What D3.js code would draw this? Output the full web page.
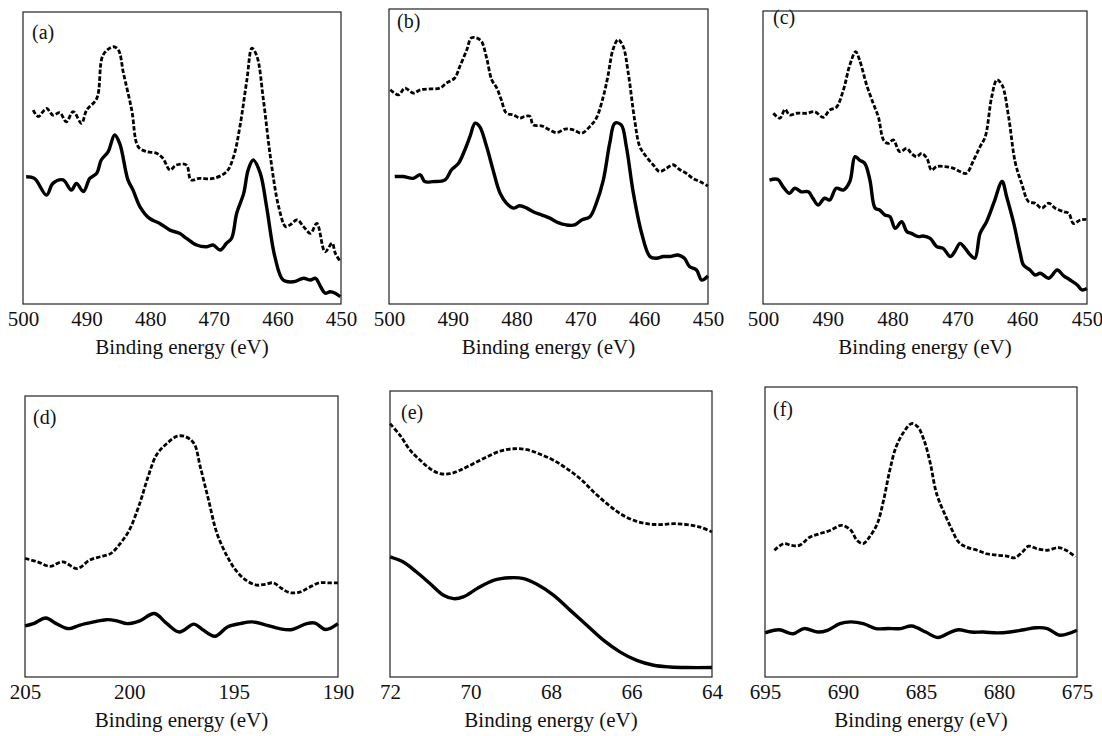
<!DOCTYPE html>
<html>
<head>
<meta charset="utf-8">
<script src="https://cdn.jsdelivr.net/npm/d3@7"></script>
<style>
  body { margin: 0; background: #fff; }
  svg text { font-family: "Liberation Serif", "DejaVu Serif", "Times New Roman", Times, serif; fill: #111; }
</style>
</head>
<body>
<svg id="chart" width="1102" height="736"></svg>
<script>
// tick labels per panel
var ticksA = [500, 490, 480, 470, 460, 450];
var ticksD = [205, 200, 195, 190];
var ticksE = [72, 70, 68, 66, 64];
var ticksF = [695, 690, 685, 680, 675];

// (a) [binding energy, intensity]
var aDashed = [[498.4,66.4],[497.6,64.2],[496.3,67.0],[495.3,64.7],[494.2,65.5],[493.2,62.4],[492.1,65.9],[490.8,61.9],[490.0,66.4],[488.4,70.4],[487.4,85.3],[485.8,88.1],[485.0,87.0],[484.2,79.0],[482.9,66.4],[481.9,53.9],[480.6,52.2],[479.0,51.6],[478.0,49.9],[476.9,45.9],[475.9,47.6],[474.3,47.6],[473.6,42.5],[472.3,43.0],[470.1,43.0],[468.0,45.3],[466.9,50.4],[465.9,60.7],[464.8,76.7],[464.0,87.6],[463.2,84.7],[462.2,69.9],[461.1,50.4],[459.8,33.3],[458.7,26.5],[458.0,27.1],[456.9,28.8],[455.9,26.5],[454.8,24.2],[453.8,27.6],[452.5,17.9],[451.4,20.8],[450.9,17.4],[450.1,14.5]];
var aSolid = [[499.5,43.6],[498.2,43.0],[496.3,37.3],[495.3,41.3],[493.7,42.5],[492.4,39.0],[491.6,41.3],[490.5,38.5],[489.5,43.0],[488.4,44.8],[487.7,49.3],[486.6,52.2],[485.6,57.9],[484.8,55.0],[483.5,42.5],[482.7,39.0],[481.6,33.3],[480.1,29.3],[478.5,27.6],[476.9,25.3],[475.4,24.2],[474.3,22.5],[472.7,20.2],[471.1,19.6],[470.1,20.2],[469.0,18.5],[468.0,20.8],[467.2,22.5],[466.4,31.1],[465.3,37.9],[464.6,45.9],[463.8,49.3],[462.7,44.8],[461.7,33.3],[460.4,16.2],[459.1,8.2],[457.5,7.6],[455.9,8.8],[454.8,8.2],[454.0,8.8],[453.2,5.9],[452.5,3.7],[451.7,4.2],[450.9,3.7],[450.1,2.5]];

// (b)
var bDashed = [[499.8,72.6],[498.5,70.9],[497.5,73.2],[496.2,71.5],[495.1,72.6],[493.6,72.9],[492.0,73.2],[491.0,74.9],[489.7,76.6],[488.9,80.5],[487.8,86.2],[487.1,90.2],[486.3,90.2],[485.5,89.0],[484.7,83.4],[483.9,76.0],[483.1,73.2],[482.4,69.2],[481.6,64.7],[480.5,64.1],[479.5,63.0],[478.7,63.6],[477.9,63.6],[477.4,60.7],[476.1,60.4],[474.8,59.0],[473.7,58.1],[472.4,59.3],[471.1,59.0],[469.8,57.9],[468.5,60.2],[467.5,63.0],[466.4,70.4],[465.7,77.1],[464.9,86.2],[464.1,89.6],[463.3,87.3],[462.5,78.3],[461.5,62.4],[460.7,53.4],[459.7,50.0],[458.6,47.2],[457.6,44.9],[456.5,46.0],[455.5,47.2],[454.4,45.5],[453.4,44.3],[452.4,42.6],[451.3,41.5],[450.0,40.0]];
var bSolid = [[499.1,43.2],[497.8,43.2],[496.2,42.6],[495.1,43.8],[494.4,41.5],[493.1,41.5],[491.2,42.1],[490.2,45.5],[489.1,47.7],[488.1,52.3],[487.3,56.8],[486.5,61.3],[485.8,60.2],[484.7,53.4],[483.7,45.5],[482.6,37.6],[481.6,34.2],[480.5,32.5],[479.5,33.3],[478.4,32.5],[477.4,31.3],[476.1,30.2],[474.8,29.1],[473.5,27.6],[472.2,26.8],[470.9,26.8],[469.8,28.5],[468.5,29.6],[467.5,34.2],[466.4,42.1],[465.4,54.5],[464.6,61.3],[463.6,60.7],[462.8,53.4],[461.7,37.6],[460.4,24.0],[459.1,16.1],[458.1,15.5],[457.0,16.1],[456.0,16.1],[454.7,16.6],[453.7,15.5],[452.9,12.7],[451.8,11.5],[451.0,8.1],[450.0,9.5]];

// (c)
var cDashed = [[498.4,65.1],[497.4,63.4],[496.6,66.4],[495.9,64.5],[494.8,65.1],[493.3,65.1],[492.0,65.6],[490.7,63.7],[489.7,66.2],[488.7,67.1],[487.6,73.0],[486.6,81.6],[485.7,86.1],[485.1,83.3],[484.0,74.7],[483.0,68.5],[482.2,63.9],[481.4,56.0],[480.7,54.8],[479.9,56.0],[478.9,52.0],[477.8,53.1],[477.1,51.4],[476.3,50.3],[475.5,51.4],[474.7,49.7],[474.0,45.7],[473.2,46.9],[471.9,46.9],[470.6,46.3],[469.6,45.2],[468.6,44.6],[467.5,49.1],[466.5,53.7],[465.7,57.1],[464.7,70.8],[463.9,76.5],[463.1,74.7],[462.1,63.9],[461.1,48.6],[460.1,41.2],[459.0,34.9],[458.0,34.4],[457.0,32.7],[455.9,34.4],[454.9,32.7],[453.6,31.5],[452.8,30.9],[452.1,27.5],[451.0,28.7],[450.1,28.9]];
var cSolid = [[499.0,42.3],[497.7,42.5],[496.9,40.0],[495.9,37.8],[495.1,39.5],[494.1,38.3],[493.0,38.3],[492.3,36.1],[491.5,33.8],[490.5,36.1],[489.7,35.5],[488.7,39.5],[487.6,38.9],[486.6,41.8],[485.8,50.3],[485.1,49.1],[484.3,48.0],[483.5,42.3],[482.7,32.7],[482.0,32.1],[481.2,30.4],[480.4,29.8],[479.6,25.8],[478.6,28.1],[477.8,24.7],[477.1,24.1],[476.0,23.0],[475.3,23.2],[474.2,22.4],[473.2,19.6],[472.2,19.0],[471.1,16.2],[470.4,17.9],[469.6,20.7],[468.8,19.0],[468.0,16.7],[467.3,15.6],[466.5,24.1],[465.5,28.1],[464.4,34.4],[463.1,41.8],[462.4,36.6],[461.3,27.5],[460.3,17.3],[459.8,13.3],[458.8,11.6],[458.0,9.9],[457.2,10.5],[455.9,8.8],[454.6,11.6],[453.6,9.6],[452.6,8.2],[451.5,6.5],[450.8,4.8],[450.0,5.3]];

// (d)
var dDashed = [[205.0,42.2],[204.4,41.0],[203.8,39.4],[203.2,41.0],[202.5,38.6],[201.9,41.6],[201.4,42.8],[200.9,43.9],[200.5,46.9],[200.0,52.3],[199.5,61.8],[199.1,71.3],[198.7,79.0],[198.2,83.1],[197.7,85.7],[197.3,85.5],[196.9,83.1],[196.6,74.8],[196.2,62.9],[195.8,51.1],[195.3,42.8],[194.9,38.0],[194.4,34.4],[193.9,32.7],[193.5,33.0],[193.1,33.5],[192.7,31.5],[192.3,30.0],[191.8,30.3],[191.4,31.8],[190.9,33.5],[190.4,33.5],[190.0,33.5]];
var dSolid = [[205.0,18.2],[204.6,19.0],[204.0,21.0],[203.5,19.0],[202.9,17.2],[202.4,18.4],[201.7,19.6],[201.1,20.4],[200.6,20.0],[200.1,19.0],[199.5,20.0],[198.8,22.6],[198.2,19.0],[197.6,16.0],[196.9,18.8],[196.5,16.9],[195.9,14.5],[195.3,17.8],[194.7,19.0],[194.1,19.6],[193.4,18.4],[192.8,17.2],[192.2,16.9],[191.5,19.0],[191.1,19.2],[190.6,16.9],[190.0,19.0]];

// (e)
var eDashed = [[72.0,88.6],[71.75,84.5],[71.5,79.3],[71.25,75.8],[71.0,72.8],[70.76,71.1],[70.51,71.1],[70.26,72.3],[69.93,74.6],[69.6,76.9],[69.26,79.0],[68.93,79.8],[68.6,79.5],[68.27,77.9],[67.94,75.8],[67.6,72.8],[67.27,69.3],[66.94,64.7],[66.61,60.6],[66.28,57.1],[65.95,54.8],[65.62,53.6],[65.28,53.3],[64.95,53.6],[64.62,53.3],[64.29,52.4],[64.0,50.7]];
var eSolid = [[72.0,42.0],[71.67,40.2],[71.34,36.7],[71.0,32.6],[70.67,28.6],[70.42,27.4],[70.18,28.0],[69.84,30.9],[69.43,33.8],[69.02,34.7],[68.68,34.4],[68.35,32.4],[67.94,28.6],[67.52,23.3],[67.11,18.1],[66.69,12.8],[66.28,8.7],[65.87,5.8],[65.45,4.1],[65.04,3.5],[64.62,3.3],[64.0,3.3]];

// (f)
var fDashed = [[694.4,43.7],[693.8,46.0],[693.3,45.4],[692.8,45.4],[692.1,48.3],[691.5,49.4],[690.8,50.6],[690.1,52.3],[689.5,50.6],[689.1,47.1],[688.7,46.0],[688.3,48.3],[687.8,52.9],[687.4,60.9],[687.0,71.3],[686.6,79.3],[686.1,84.5],[685.6,87.4],[685.2,86.2],[684.8,81.6],[684.4,73.6],[684.0,63.2],[683.4,55.2],[683.0,50.6],[682.6,46.6],[682.1,44.8],[681.4,43.7],[680.8,42.5],[680.1,42.0],[679.5,41.7],[679.0,41.1],[678.5,43.1],[678.1,45.1],[677.6,44.3],[676.9,43.7],[676.2,44.6],[675.7,43.7],[675.1,41.4]];
var fSolid = [[695.0,15.2],[694.1,16.3],[693.2,14.9],[692.5,16.7],[691.6,15.5],[691.0,16.1],[690.2,18.4],[689.5,19.0],[688.7,18.4],[687.9,16.7],[687.1,16.7],[686.3,16.7],[685.6,17.6],[684.7,15.5],[683.9,13.6],[683.1,15.5],[682.6,16.3],[681.8,15.5],[681.0,15.5],[680.1,15.2],[679.3,15.5],[678.4,16.3],[677.6,17.0],[676.9,16.7],[676.1,14.4],[675.0,16.1]];

var panels = [
  {label:"(a)", x0:23,  x1:341,  y0:12,  y1:304, dom:[500,450], ticks:ticksA, dashed:aDashed, solid:aSolid, lx:9, ly:27},
  {label:"(b)", x0:389, x1:708,  y0:9,   y1:304, dom:[500,450], ticks:ticksA, dashed:bDashed, solid:bSolid, lx:8, ly:19},
  {label:"(c)", x0:763, x1:1087, y0:11,  y1:304, dom:[500,450], ticks:ticksA, dashed:cDashed, solid:cSolid, lx:10, ly:13},
  {label:"(d)", x0:25,  x1:338,  y0:396, y1:677, dom:[205,190], ticks:ticksD, dashed:dDashed, solid:dSolid, lx:8, ly:28},
  {label:"(e)", x0:390, x1:712,  y0:391, y1:677, dom:[72,64],   ticks:ticksE, dashed:eDashed, solid:eSolid, lx:11, ly:28},
  {label:"(f)", x0:765, x1:1077, y0:387, y1:677, dom:[695,675], ticks:ticksF, dashed:fDashed, solid:fSolid, lx:8, ly:29}
];

var serif = "'Liberation Serif', 'DejaVu Serif', 'Times New Roman', Times, serif";
var svg = d3.select("#chart").attr("font-family", serif);

panels.forEach(function(p){
    var x = d3.scaleLinear().domain(p.dom).range([p.x0, p.x1]);
    var y = d3.scaleLinear().domain([0, 100]).range([p.y1, p.y0]);
    var g = svg.append("g");

    var line = d3.line()
        .x(function(d){ return x(d[0]); })
        .y(function(d){ return y(d[1]); })
        .curve(d3.curveCatmullRom.alpha(0.5));

    g.append("path")
        .attr("d", line(p.dashed))
        .attr("fill", "none")
        .attr("stroke", "#000")
        .attr("stroke-width", 2.8)
        .attr("stroke-dasharray", "4.5,2");

    g.append("path")
        .attr("d", line(p.solid))
        .attr("fill", "none")
        .attr("stroke", "#000")
        .attr("stroke-width", 3.4)
        .attr("stroke-linejoin", "round");

    g.append("rect")
        .attr("x", p.x0).attr("y", p.y0)
        .attr("width", p.x1 - p.x0).attr("height", p.y1 - p.y0)
        .attr("fill", "none")
        .attr("stroke", "#222")
        .attr("stroke-width", 1.2);

    var xAxis = d3.axisBottom(x).tickValues(p.ticks).tickSize(0).tickPadding(0);
    var ax = g.append("g")
        .attr("transform", "translate(0," + p.y1 + ")")
        .call(xAxis)
        .attr("font-family", serif)
        .attr("font-size", 21);
    ax.select(".domain").remove();
    ax.selectAll("text")
        .attr("dy", null)
        .attr("y", 22)
        .attr("fill", "#111");

    g.append("text")
        .attr("x", (p.x0 + p.x1) / 2)
        .attr("y", p.y1 + 50)
        .attr("text-anchor", "middle")
        .attr("font-family", serif)
        .attr("font-size", 21)
        .text("Binding energy (eV)");

    g.append("text")
        .attr("x", p.x0 + p.lx)
        .attr("y", p.y0 + p.ly)
        .attr("font-family", serif)
        .attr("font-size", 20)
        .text(p.label);
});
</script>
</body>
</html>
